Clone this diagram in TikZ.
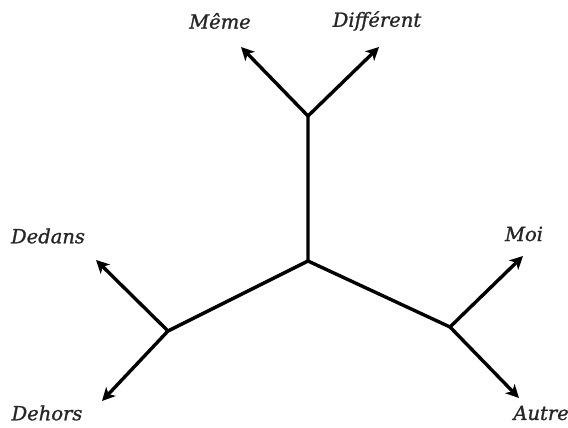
\documentclass[tikz,border=0pt]{standalone}
\usepackage{fontspec}
\setmainfont[ItalicFeatures={FakeBold=1.2}]{DejaVu Serif}
\usetikzlibrary{arrows.meta}

\begin{document}
\begin{tikzpicture}[x=1pt, y=-1pt,
  word/.style={font=\fontsize{19.5}{21}\selectfont\itshape, text=black!85, inner sep=1pt},
  stem/.style={line width=3.4pt, black, line cap=round},
  arr/.style={stem, line cap=butt, -{Stealth[length=13pt, width=13pt, inset=3.5pt]}}]
\useasboundingbox (0,0) rectangle (568,428);
% junctions of the tree
\coordinate (mid) at (308,261);
\coordinate (jTop) at (308,116);
\coordinate (jLeft) at (168,331);
\coordinate (jRight) at (450,327);
% arrow tips
\coordinate (tMeme) at (241,47);
\coordinate (tDiff) at (379,47);
\coordinate (tDedans) at (96,260);
\coordinate (tDehors) at (102,401);
\coordinate (tMoi) at (523,256);
\coordinate (tAutre) at (519,398);
% labels
\node[word] (lMeme) at (220,21) {Même};
\node[word] (lDiff) at (377,21) {Différent};
\node[word] (lDedans) at (48,236) {Dedans};
\node[word] (lDehors) at (47,413) {Dehors};
\node[word] (lMoi) at (524,234) {Moi};
\node[word, anchor=east] (lAutre) at (570,413) {Autre};
\draw[stem] (jTop) -- (mid) -- (jLeft);
\draw[stem] (mid) -- (jRight);
\draw[arr] (jTop) -- (tMeme);
\draw[arr] (jTop) -- (tDiff);
\draw[arr] (jLeft) -- (tDedans);
\draw[arr] (jLeft) -- (tDehors);
\draw[arr] (jRight) -- (tMoi);
\draw[arr] (jRight) -- (tAutre);
\end{tikzpicture}
\end{document}
